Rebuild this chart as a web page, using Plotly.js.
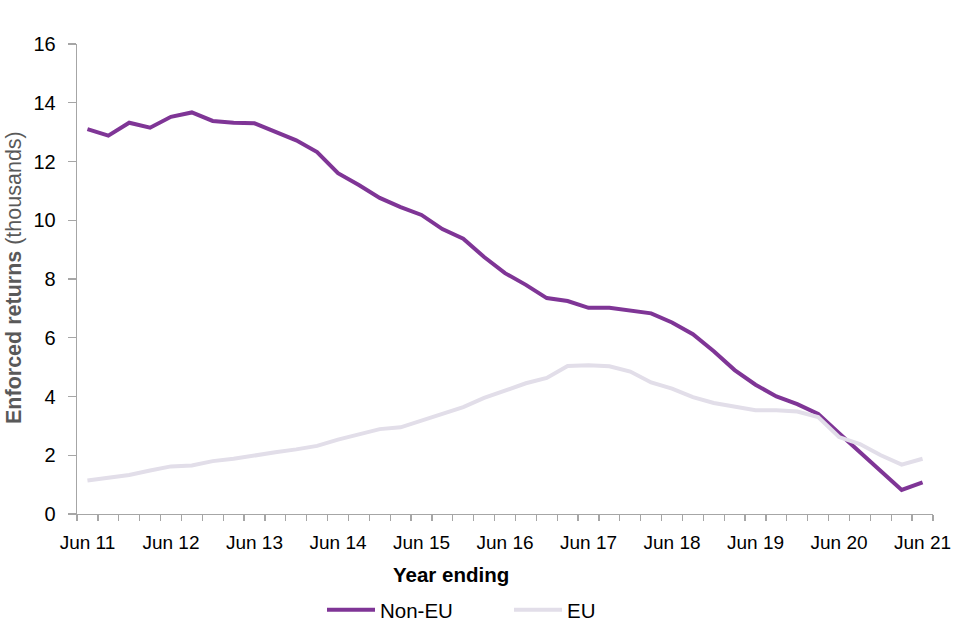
<!DOCTYPE html>
<html>
<head>
<meta charset="utf-8">
<script src="https://cdn.plot.ly/plotly-3.0.1.min.js"></script>
<style>html,body{margin:0;padding:0;background:#fff;}#chart{width:960px;height:640px;}</style>
</head>
<body>
<div id="chart"></div>
<script>
var quarters = ["Jun 11","Sep 11","Dec 11","Mar 12","Jun 12","Sep 12","Dec 12","Mar 13","Jun 13","Sep 13",
  "Dec 13","Mar 14","Jun 14","Sep 14","Dec 14","Mar 15","Jun 15","Sep 15","Dec 15","Mar 16",
  "Jun 16","Sep 16","Dec 16","Mar 17","Jun 17","Sep 17","Dec 17","Mar 18","Jun 18","Sep 18",
  "Dec 18","Mar 19","Jun 19","Sep 19","Dec 19","Mar 20","Jun 20","Sep 20","Dec 20","Mar 21","Jun 21"];
var nonEU = [13.1,12.88,13.32,13.15,13.52,13.67,13.38,13.32,13.3,13.02,
  12.72,12.32,11.6,11.2,10.76,10.45,10.18,9.7,9.37,8.75,
  8.2,7.8,7.35,7.25,7.02,7.02,6.94,6.83,6.52,6.12,
  5.54,4.9,4.4,4.0,3.74,3.41,2.75,2.1,1.45,0.82,1.08];
var eu = [1.14,1.22,1.33,1.48,1.62,1.65,1.8,1.88,2.0,2.1,
  2.2,2.32,2.53,2.72,2.89,2.95,3.18,3.41,3.64,3.95,
  4.21,4.45,4.63,5.04,5.06,5.03,4.85,4.48,4.27,3.98,
  3.78,3.64,3.53,3.53,3.49,3.3,2.62,2.38,2.0,1.68,1.88];
var tickLabels = quarters.map(function(q){ return q.indexOf("Jun") === 0 ? q : ""; });
var yTicks = [0,2,4,6,8,10,12,14,16];

var font = "Liberation Sans, Arial, sans-serif";
var traces = [
  {x: quarters, y: nonEU, name: "Non-EU", type: "scatter", mode: "lines",
   line: {color: "#7F3596", width: 4}},
  {x: quarters, y: eu, name: "EU", type: "scatter", mode: "lines",
   line: {color: "#E2DEE9", width: 4}}
];
var layout = {
  width: 960, height: 640,
  margin: {l: 77, r: 27, t: 44, b: 126, autoexpand: false},
  paper_bgcolor: "#fff", plot_bgcolor: "#fff",
  font: {family: font, size: 19, color: "#000"},
  showlegend: true,
  legend: {orientation: "h", x: (322-77)/856, xanchor: "left", xref: "paper", y: -(610-514)/470, yanchor: "middle",
    font: {size: 20.5}, itemwidth: 48, entrywidth: 124, entrywidthmode: "pixels",
    tracegroupgap: 0, traceorder: "normal"},
  xaxis: {
    type: "category", range: [-0.5, 40.5], tickmode: "array",
    tickvals: quarters, ticktext: tickLabels, tickson: "boundaries",
    ticks: "outside", ticklen: 6, tickcolor: "#A6A6A6", tickwidth: 1.3,
    showline: true, linecolor: "#A6A6A6", linewidth: 1.3,
    showgrid: false, zeroline: false, tickangle: 0,
    tickfont: {size: 19}, ticklabelstandoff: 11
  },
  yaxis: {
    range: [0, 16], tickmode: "array", tickvals: yTicks,
    ticks: "outside", ticklen: 8, tickcolor: "#A6A6A6", tickwidth: 1.3,
    showline: true, linecolor: "#A6A6A6", linewidth: 1.3,
    showgrid: false, zeroline: false, tickfont: {size: 20}, ticklabelstandoff: 8
  },
  annotations: [
    {text: "<b>Year ending</b>", xref: "paper", yref: "paper", x: (451-77)/856, y: -(574-514)/470,
     xanchor: "center", yanchor: "middle", showarrow: false, font: {size: 20.5, color: "#000"}},
    {text: "<b>Enforced returns</b> (thousands)", xref: "paper", yref: "paper",
     x: -(77-14)/856, y: (514-278)/470, xanchor: "center", yanchor: "middle", textangle: -90,
     showarrow: false, font: {size: 21.5, color: "#595959"}}
  ]
};
Plotly.newPlot("chart", traces, layout, {displayModeBar: false, staticPlot: true});
</script>
</body>
</html>
